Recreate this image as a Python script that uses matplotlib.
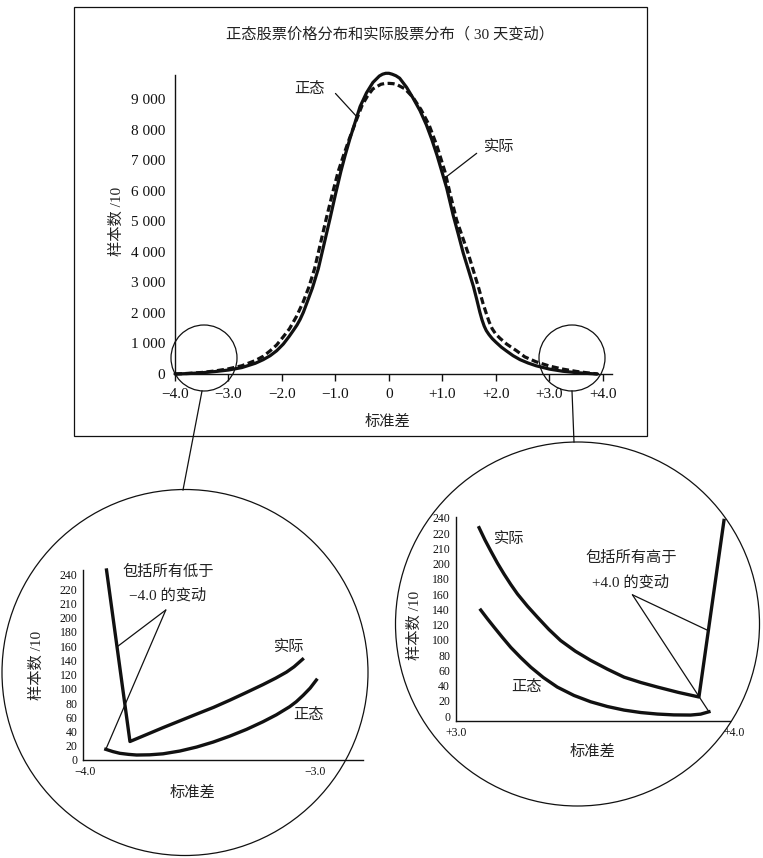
import numpy as np
import matplotlib
matplotlib.use('Agg')
import matplotlib.pyplot as plt
from matplotlib.patches import Circle, Rectangle

plt.rcParams['font.family'] = ['Liberation Serif', 'Noto Sans CJK SC']

# 主图：正态（实线）与实际（虚线），样本数/10
main_x_normal = [-4.0, -3.75, -3.5, -3.25, -3.0, -2.75, -2.5, -2.35, -2.22, -2.1, -1.975, -1.87,
                 -1.79, -1.72, -1.66, -1.6, -1.54, -1.43, -1.32, -1.2, -1.1, -1.0, -0.9, -0.82,
                 -0.73, -0.63, -0.54, -0.42, -0.3, -0.18, -0.12, -0.06, 0.0, 0.06, 0.13, 0.2,
                 0.33, 0.45, 0.58, 0.7, 0.8, 0.9, 1.0, 1.08, 1.2, 1.3, 1.39, 1.49, 1.58, 1.64,
                 1.7, 1.74, 1.78, 1.82, 1.87, 1.93, 2.0, 2.1, 2.2, 2.32, 2.45, 2.6, 2.75, 3.0,
                 3.25, 3.5, 3.75, 3.9]
main_y_normal = [0, 15, 40, 80, 130, 210, 350, 470, 600, 760, 980, 1220,
                 1420, 1600, 1790, 2020, 2300, 2820, 3450, 4350, 5100, 5880, 6620, 7150,
                 7700, 8250, 8750, 9200, 9540, 9750, 9810, 9840, 9840, 9810, 9760, 9680,
                 9380, 9030, 8620, 8150, 7680, 7150, 6560, 6080, 5200, 4550, 3950, 3380, 2860, 2450,
                 2020, 1770, 1570, 1420, 1290, 1160, 1040, 880, 750, 600, 470, 360, 270, 160,
                 90, 45, 15, 0]

main_x_actual = [-4.0, -3.75, -3.5, -3.25, -3.0, -2.75, -2.5, -2.35, -2.22, -2.1, -1.975, -1.86,
                 -1.73, -1.61, -1.5, -1.39, -1.27, -1.17, -1.06, -0.95, -0.85, -0.74, -0.6, -0.5,
                 -0.4, -0.3, -0.15, -0.08, 0.0, 0.08, 0.15, 0.3, 0.45, 0.6, 0.75,
                 0.9, 1.05, 1.15, 1.265, 1.48, 1.67, 1.76, 1.82, 1.87, 1.93, 2.0, 2.075,
                 2.2, 2.386, 2.54, 2.75, 3.0, 3.25, 3.5, 3.75, 3.9]
main_y_actual = [0, 20, 50, 100, 170, 270, 440, 580, 760, 950, 1220, 1480,
                 1880, 2330, 2830, 3450, 4350, 5100, 5880, 6620, 7150, 7700, 8350, 8800,
                 9100, 9330, 9480, 9505, 9510, 9500, 9470, 9330, 9050, 8650, 8150,
                 7450, 6600, 5850, 5040, 3950, 2860, 2300, 1980, 1720, 1480, 1300, 1170,
                 980, 760, 560, 400, 260, 160, 85, 30, 0]

main_xticks = [-4, -3, -2, -1, 0, 1, 2, 3, 4]
main_xticklabels = ['−4.0', '−3.0', '−2.0', '−1.0', '0', '+1.0', '+2.0', '+3.0', '+4.0']
main_yticks = [0, 1000, 2000, 3000, 4000, 5000, 6000, 7000, 8000, 9000]
main_yticklabels = ['0', '1 000', '2 000', '3 000', '4 000', '5 000', '6 000', '7 000', '8 000', '9 000']

# 左尾放大（-4.0 ~ -3.0）
left_x_actual = [-3.906, -3.804, -3.73, -3.66, -3.587, -3.514, -3.44, -3.37, -3.30, -3.225,
                 -3.17, -3.123, -3.09, -3.053]
left_y_actual = [267, 26, 36, 45.5, 55, 64.5, 74, 84, 94.5, 106, 115, 123.5, 131, 141.5]
left_x_normal = [-3.909, -3.878, -3.848, -3.81, -3.775, -3.718, -3.66, -3.587, -3.514, -3.442,
                 -3.37, -3.297, -3.225, -3.167, -3.109, -3.08, -3.05, -3.02, -2.993]
left_y_normal = [15, 11.8, 9.4, 7.9, 7.0, 7.3, 8.7, 12.6, 18.2, 25.2,
                 33.5, 43, 53.8, 63.5, 74.9, 82, 91, 101, 112.4]

# 右尾放大（+3.0 ~ +4.0）
right_x_actual = [3.084, 3.105, 3.126, 3.15, 3.174, 3.198, 3.222, 3.258, 3.294, 3.335, 3.377,
                  3.43, 3.485, 3.545, 3.605, 3.665, 3.725, 3.80, 3.874, 3.964]
right_y_actual = [247, 231, 216.5, 200.5, 186, 172.5, 160, 144, 129.5, 113.5, 99,
                  85, 73, 61.5, 51, 44, 38, 31, 25, 256.5]
right_x_normal = [3.090, 3.114, 3.138, 3.168, 3.198, 3.234, 3.270, 3.315, 3.365, 3.425, 3.485,
                  3.545, 3.605, 3.665, 3.725, 3.784, 3.844, 3.880, 3.910]
right_y_normal = [139, 127.5, 116.5, 103, 90, 76.5, 64, 50.5, 38, 27, 18.7,
                  12.5, 7.8, 4.6, 2.6, 1.5, 1.3, 2.5, 5.6]

tail_ytick_pos = [0, 20, 40, 60, 80, 100, 120, 140, 160, 180, 200, 220, 240, 260]
tail_ytick_labels = ['0', '20', '40', '60', '80', '100', '120', '140', '160', '180',
                     '200', '210', '220', '240']

W, H = 763, 858
INK = '#111111'
TXT = '#222222'
fig = plt.figure(figsize=(W / 100, H / 100), dpi=100)


def px_axes(x0, y0, x1, y1):
    return fig.add_axes([x0 / W, 1 - y1 / H, (x1 - x0) / W, (y1 - y0) / H])


def clean(ax):
    ax.patch.set_visible(False)
    for s in ['top', 'right']:
        ax.spines[s].set_visible(False)
    for s in ['left', 'bottom']:
        ax.spines[s].set_linewidth(1.0)
        ax.spines[s].set_color(INK)


# ---- 主图 ----
ax = px_axes(175, 75, 612, 374)
clean(ax)
ax.plot(main_x_normal, main_y_normal, color=INK, lw=2.3, clip_on=False,
        solid_capstyle='round', solid_joinstyle='round')
ax.plot(main_x_actual, main_y_actual, color=INK, lw=2.3, ls=(0, (2.2, 1.1)), clip_on=False)
ax.set_xlim(-4.0, 4.17)
ax.set_ylim(0, 9784)
ax.set_xticks(main_xticks)
ax.set_xticklabels(main_xticklabels)
ax.set_yticks(main_yticks)
ax.set_yticklabels(main_yticklabels)
ax.tick_params(axis='x', direction='out', length=5, width=1, pad=5, labelsize=11, colors=INK)
ax.tick_params(axis='y', length=0, pad=7, labelsize=11, colors=INK)
ax.text(-0.133, 0.51, '样本数 /10', transform=ax.transAxes, rotation=90,
        ha='center', va='center', fontsize=11, color=TXT)
ax.text(0.487, -0.162, '标准差', transform=ax.transAxes, ha='center', va='center',
        fontsize=11, color=TXT)

# 标注
ax.text(-1.49, 9326, '正态', ha='center', va='center', fontsize=11, color=TXT)
xn = -0.6
ax.annotate('', xy=(xn, np.interp(xn, main_x_normal, main_y_normal)), xytext=(-1.0, 9180),
            arrowprops=dict(arrowstyle='-', color=INK, lw=0.9, shrinkA=0, shrinkB=0))
ax.text(2.07, 7400, '实际', ha='center', va='center', fontsize=11, color=TXT)
xa = 1.07
ax.annotate('', xy=(xa, np.interp(xa, main_x_actual, main_y_actual)), xytext=(1.64, 7222),
            arrowprops=dict(arrowstyle='-', color=INK, lw=0.9, shrinkA=0, shrinkB=0))

fig.text(390 / W, 1 - 34 / H, '正态股票价格分布和实际股票分布（ 30 天变动）',
         ha='center', va='center', fontsize=11, color=TXT)


def tail_axes(ax, xt, xtl):
    clean(ax)
    ax.set_xticks(xt)
    ax.set_xticklabels(xtl)
    ax.set_yticks(tail_ytick_pos)
    ax.set_yticklabels(tail_ytick_labels)
    ax.tick_params(axis='x', length=0, pad=4, labelsize=8.5, colors=INK)
    ax.tick_params(axis='y', length=0, pad=4, labelsize=8.5, colors=INK)


def on_spike(xs, ys, y):
    # point on the spike segment at height y
    return np.interp(y, sorted(ys), [x for _, x in sorted(zip(ys, xs))]), y


# ---- 左尾 ----
axl = px_axes(83.3, 570, 363, 760)
tail_axes(axl, [-4.0, -3.0], ['−4.0', '−3.0'])
axl.set_xlim(-4.007, -2.79)
axl.set_ylim(0, 267)
axl.plot(left_x_actual, left_y_actual, color=INK, lw=2.4, clip_on=False)
axl.plot(left_x_normal, left_y_normal, color=INK, lw=2.4, clip_on=False)
axl.text(-0.166, 0.5, '样本数 /10', transform=axl.transAxes, rotation=90,
         ha='center', va='center', fontsize=11, color=TXT)
axl.text(0.392, -0.174, '标准差', transform=axl.transAxes, ha='center', va='center',
         fontsize=11, color=TXT)
axl.text(-3.638, 264.6, '包括所有低于', ha='center', va='center', fontsize=11, color=TXT)
axl.text(-3.638, 231.8, '−4.0 的变动', ha='center', va='center', fontsize=11, color=TXT)
anchor = (-3.648, 210.8)
p1 = on_spike(left_x_actual[:2], left_y_actual[:2], 159)
for p in [p1, (left_x_normal[0], left_y_normal[0])]:
    axl.annotate('', xy=p, xytext=anchor, annotation_clip=False,
                 arrowprops=dict(arrowstyle='-', color=INK, lw=0.9, shrinkA=0, shrinkB=0))
axl.text(-3.109, 157, '实际', ha='center', va='center', fontsize=11, color=TXT)
axl.text(-3.029, 63, '正态', ha='center', va='center', fontsize=11, color=TXT)

# ---- 右尾 ----
axr = px_axes(455.7, 517, 734, 721)
tail_axes(axr, [3.0, 4.0], ['+3.0', '+4.0'])
axr.set_xlim(3.0, 4.0)
axr.set_ylim(-6.5, 261)
axr.spines['bottom'].set_bounds(3.0, 3.986)
axr.plot(right_x_actual, right_y_actual, color=INK, lw=2.4, clip_on=False)
axr.plot(right_x_normal, right_y_normal, color=INK, lw=2.4, clip_on=False)
axr.text(-0.146, 0.466, '样本数 /10', transform=axr.transAxes, rotation=90,
         ha='center', va='center', fontsize=11, color=TXT)
axr.text(0.493, -0.152, '标准差', transform=axr.transAxes, ha='center', va='center',
         fontsize=11, color=TXT)
axr.text(3.629, 207.8, '包括所有高于', ha='center', va='center', fontsize=11, color=TXT)
axr.text(3.629, 175, '+4.0 的变动', ha='center', va='center', fontsize=11, color=TXT)
anchor = (3.635, 159)
p1 = on_spike(right_x_actual[-2:], right_y_actual[-2:], 112)
for p in [p1, (right_x_normal[-1], right_y_normal[-1])]:
    axr.annotate('', xy=p, xytext=anchor, annotation_clip=False,
                 arrowprops=dict(arrowstyle='-', color=INK, lw=0.9, shrinkA=0, shrinkB=0))
axr.text(3.192, 230.5, '实际', ha='center', va='center', fontsize=11, color=TXT)
axr.text(3.255, 38, '正态', ha='center', va='center', fontsize=11, color=TXT)

# ---- 外框、放大圈与连线（像素坐标） ----
ov = fig.add_axes([0, 0, 1, 1], zorder=5)
ov.set_xlim(0, W)
ov.set_ylim(H, 0)
ov.axis('off')
ov.add_patch(Rectangle((74, 7), 573, 429, fill=False, lw=0.9, ec=INK))
for (cx, cy, r) in [(204, 358, 33), (572, 358, 33), (185, 672.5, 183), (577.5, 624, 182)]:
    ov.add_patch(Circle((cx, cy), r, fill=False, lw=0.9, ec=INK))
ov.plot([202, 183], [391, 490], color=INK, lw=0.9)
ov.plot([572, 574], [391, 442], color=INK, lw=0.9)

fig.savefig('out.png', dpi=100)
